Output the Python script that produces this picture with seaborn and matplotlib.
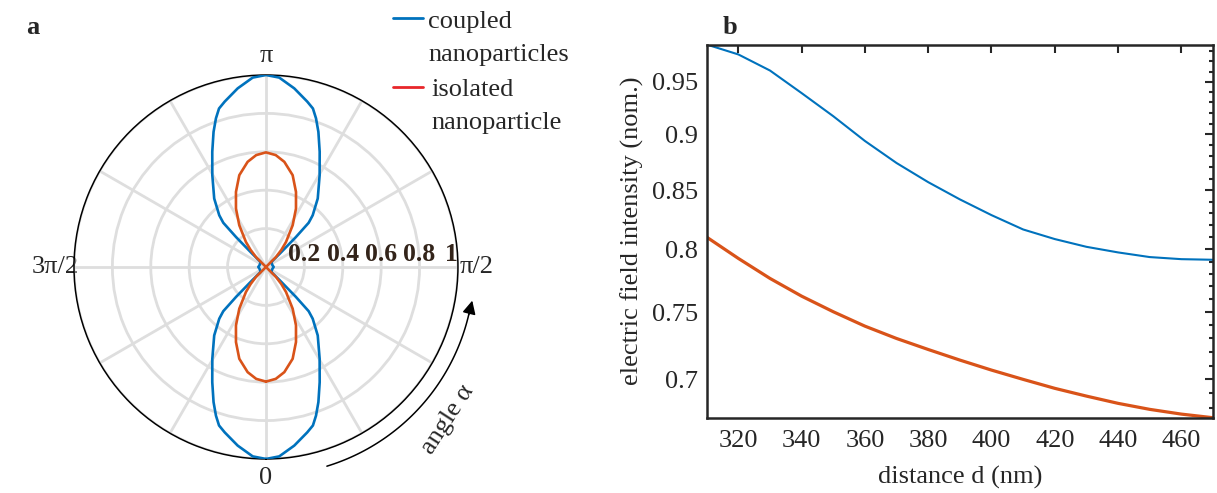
import numpy as np
import pandas as pd
import matplotlib
matplotlib.use('Agg')
import matplotlib.pyplot as plt
import matplotlib.ticker as mticker
from matplotlib.lines import Line2D
import seaborn as sns

# panel a: polar pattern, one quadrant (pattern is symmetric)
angle_q_deg = [0, 4, 9, 14, 16.5, 18.6, 21.2, 25, 30.3, 37.1, 42.1, 44, 45, 46, 47, 60, 75, 90]
coupled_q = [1.0, 0.989, 0.942, 0.888, 0.861, 0.817, 0.755, 0.662, 0.554, 0.447, 0.363, 0.32, 0.22, 0.10, 0.04, 0.035, 0.035, 0.04]

angle_q_deg_iso = [0, 5, 9.9, 16.2, 21.8, 27.2, 32.6, 38.7, 42, 45, 47, 60, 90]
isolated_q = [0.597, 0.585, 0.556, 0.498, 0.421, 0.342, 0.258, 0.167, 0.12, 0.074, 0.0, 0.0, 0.0]

# panel b: intensity vs distance
distance = [310, 320, 330, 340, 350, 360, 370, 380, 390, 400, 410, 420, 430, 440, 450, 460, 470]
coupled_d = [0.987, 0.977, 0.961, 0.939, 0.917, 0.894, 0.874, 0.857, 0.842, 0.8285, 0.8164,
             0.8084, 0.802, 0.7974, 0.7936, 0.7919, 0.7914]
isolated_d = [0.810, 0.7925, 0.7764, 0.7624, 0.7503, 0.7393, 0.730, 0.7218, 0.714, 0.7067, 0.700,
              0.6936, 0.6881, 0.6830, 0.6788, 0.6755, 0.673]

ring_values = [0.2, 0.4, 0.6, 0.8, 1.0]
ring_labels = ['0.2', '0.4', '0.6', '0.8', '1']
ytick_values = [0.7, 0.75, 0.8, 0.85, 0.9, 0.95]
ytick_labels = ['0.7', '0.75', '0.8', '0.85', '0.9', '0.95']
xtick_values = [320, 340, 360, 380, 400, 420, 440, 460]

BLUE = '#0072BD'
ORANGE = '#D95319'
LEG_RED = '#E8262A'
FS = 19


def full_turn(angles, radii):
    # the pattern is mirror symmetric about both axes
    a = np.asarray(angles, dtype=float)
    r = np.asarray(radii, dtype=float)
    th = np.concatenate([a, 180 - a[::-1], 180 + a, 360 - a[::-1]])
    rr = np.concatenate([r, r[::-1], r, r[::-1]])
    return np.radians(th), rr


sns.set_style('white')
plt.rcParams['font.family'] = ['Liberation Serif', 'DejaVu Serif']
plt.rcParams['font.size'] = FS

fig = plt.figure(figsize=(12.17, 4.93), dpi=100)

# ---------------- panel a ----------------
axp = fig.add_axes([0.0608, 0.069, 0.3155, 0.7789], projection='polar')
axp.set_theta_zero_location('S')
axp.set_theta_direction(1)

th_c, r_c = full_turn(angle_q_deg, coupled_q)
th_i, r_i = full_turn(angle_q_deg_iso, isolated_q)
polar_df = pd.concat([
    pd.DataFrame({'theta': th_c, 'r': r_c, 'series': 'coupled'}),
    pd.DataFrame({'theta': th_i, 'r': r_i, 'series': 'isolated'}),
])
for name, col in [('coupled', BLUE), ('isolated', ORANGE)]:
    sub = polar_df[polar_df['series'] == name]
    sns.lineplot(x=sub['theta'].values, y=sub['r'].values, ax=axp, sort=False,
                 estimator=None, color=col, lw=1.9, zorder=3)

axp.set_xlabel('')
axp.set_ylabel('')
axp.set_rlim(0, 1)
axp.set_rticks(ring_values)
axp.set_yticklabels([])
theta_lbls = ['0', '', '', 'π/2', '', '', 'π', '', '', '3π/2', '', '']
axp.set_thetagrids(np.arange(0, 360, 30), labels=theta_lbls, fontsize=FS)
axp.tick_params(axis='x', pad=3)
axp.grid(True, color='#dedede', lw=2.0)
axp.spines['polar'].set_color('black')
axp.spines['polar'].set_linewidth(1.1)

for rv, lbl in zip(ring_values, ring_labels):
    axp.annotate(lbl, xy=(np.pi / 2, rv), xytext=(-5 if lbl == '1' else 0, 1),
                 textcoords='offset points', ha='center', va='bottom',
                 fontsize=18.5, fontweight='bold', color='#33241a', zorder=5)

# angle arrow
arc_t = np.radians(np.linspace(17, 77, 60))
axp.plot(arc_t, np.full_like(arc_t, 1.085), color='black', lw=1.1, clip_on=False)
axp.annotate('', xy=(np.radians(81.5), 1.09), xytext=(np.radians(76), 1.085),
             arrowprops=dict(arrowstyle='-|>', color='black', lw=1.1, mutation_scale=20),
             annotation_clip=False)
axp.text(np.radians(50), 1.24, 'angle α', rotation=57, ha='center', va='center',
         fontsize=FS, rotation_mode='anchor')

# legend
H = 493.0
W = 1217.0
fig.add_artist(Line2D([393 / W, 423 / W], [1 - 18 / H, 1 - 18 / H], color=BLUE, lw=2))
fig.add_artist(Line2D([393 / W, 423 / W], [1 - 87 / H, 1 - 87 / H], color=LEG_RED, lw=2))
fig.text(428 / W, 1 - 28 / H, 'coupled', va='baseline', ha='left', fontsize=FS)
fig.text(428 / W, 1 - 61 / H, 'nanoparticles', va='baseline', ha='left', fontsize=FS)
fig.text(431 / W, 1 - 96 / H, 'isolated', va='baseline', ha='left', fontsize=FS)
fig.text(431 / W, 1 - 129 / H, 'nanoparticle', va='baseline', ha='left', fontsize=FS)

fig.text(33 / W, 1 - 27 / H, 'a', ha='center', va='center', fontsize=FS, fontweight='bold')
fig.text(730 / W, 1 - 27 / H, 'b', ha='center', va='center', fontsize=FS, fontweight='bold')

# ---------------- panel b ----------------
axb = fig.add_axes([0.5807, 0.1527, 0.416, 0.757])
line_df = pd.DataFrame({'distance': distance * 2,
                        'intensity': coupled_d + isolated_d,
                        'series': ['coupled'] * len(distance) + ['isolated'] * len(distance)})
sns.lineplot(data=line_df[line_df['series'] == 'coupled'], x='distance', y='intensity',
             ax=axb, color=BLUE, lw=1.5)
sns.lineplot(data=line_df[line_df['series'] == 'isolated'], x='distance', y='intensity',
             ax=axb, color=ORANGE, lw=2.3)

axb.set_yscale('log')
axb.set_xlim(310, 470)
axb.set_ylim(min(isolated_d), max(coupled_d))
axb.yaxis.set_major_locator(mticker.FixedLocator(ytick_values))
axb.yaxis.set_major_formatter(mticker.FixedFormatter(ytick_labels))
minor_y = [v / 100 for v in range(68, 99) if v % 5 != 0]
axb.yaxis.set_minor_locator(mticker.FixedLocator(minor_y))
axb.yaxis.set_minor_formatter(mticker.NullFormatter())
axb.xaxis.set_major_locator(mticker.FixedLocator(xtick_values))
axb.xaxis.set_minor_locator(mticker.NullLocator())

axb.tick_params(which='both', direction='in', top=True, right=True, color='#262626', width=1.5)
axb.tick_params(which='major', length=6)
axb.tick_params(which='minor', length=3)
axb.tick_params(axis='y', which='major', labelsize=FS, pad=6)
axb.tick_params(axis='x', which='major', labelsize=FS, pad=9)
for sp in axb.spines.values():
    sp.set_color('#262626')
    sp.set_linewidth(1.8)

axb.set_xlabel('distance d (nm)', fontsize=FS)
axb.set_ylabel('electric field intensity (nom.)', fontsize=FS)
axb.xaxis.set_label_coords(0.5, -0.13)
axb.yaxis.set_label_coords(-0.124, 0.5)

fig.savefig('out.png', dpi=100)
